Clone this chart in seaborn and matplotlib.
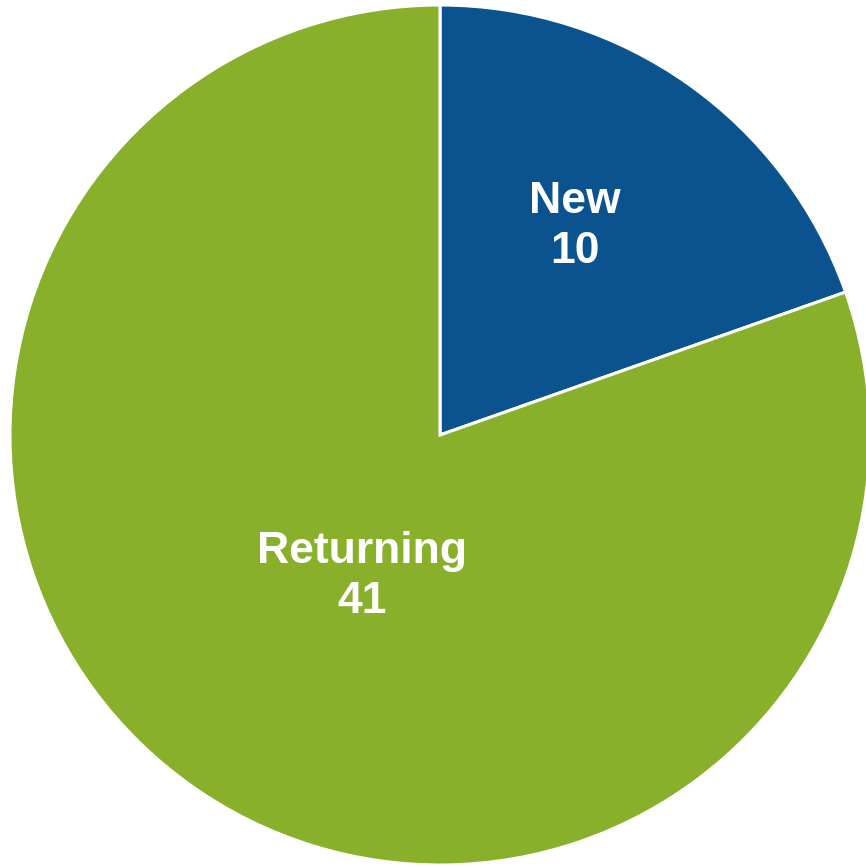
import numpy as np
import matplotlib
matplotlib.use("Agg")
import matplotlib.pyplot as plt
import seaborn as sns

categories = ["New", "Returning"]
counts = [10, 41]
colors = ["#0B538F", "#88B02A"]
# how far from the centre each label sits (fraction of radius) and angle nudge (deg)
label_dist = [0.577, 0.376]
label_nudge = [2.3, 6.6]

sns.set_theme(style="white")
plt.rcParams["font.family"] = ["Liberation Sans", "DejaVu Sans"]

fig = plt.figure(figsize=(8.66, 8.67), dpi=100)
ax = fig.add_axes([10 / 866, 2 / 867, 860 / 866, 860 / 867])

wedges, _ = ax.pie(
    counts,
    colors=colors,
    startangle=90,
    counterclock=False,
    radius=1,
    wedgeprops=dict(edgecolor="white", linewidth=2.2),
)
for w in wedges:
    w.set_clip_on(False)

for w, name, n, d, nudge in zip(wedges, categories, counts, label_dist, label_nudge):
    mid = np.deg2rad((w.theta1 + w.theta2) / 2 + nudge)
    ax.text(d * np.cos(mid), d * np.sin(mid), f"{name}\n{n}",
            ha="center", va="center", color="white",
            fontsize=32, fontweight="bold", linespacing=1.28)

ax.set_xlim(-1, 1)
ax.set_ylim(-1, 1)
ax.set_aspect("equal")
ax.axis("off")

fig.savefig("out.png", dpi=100)
